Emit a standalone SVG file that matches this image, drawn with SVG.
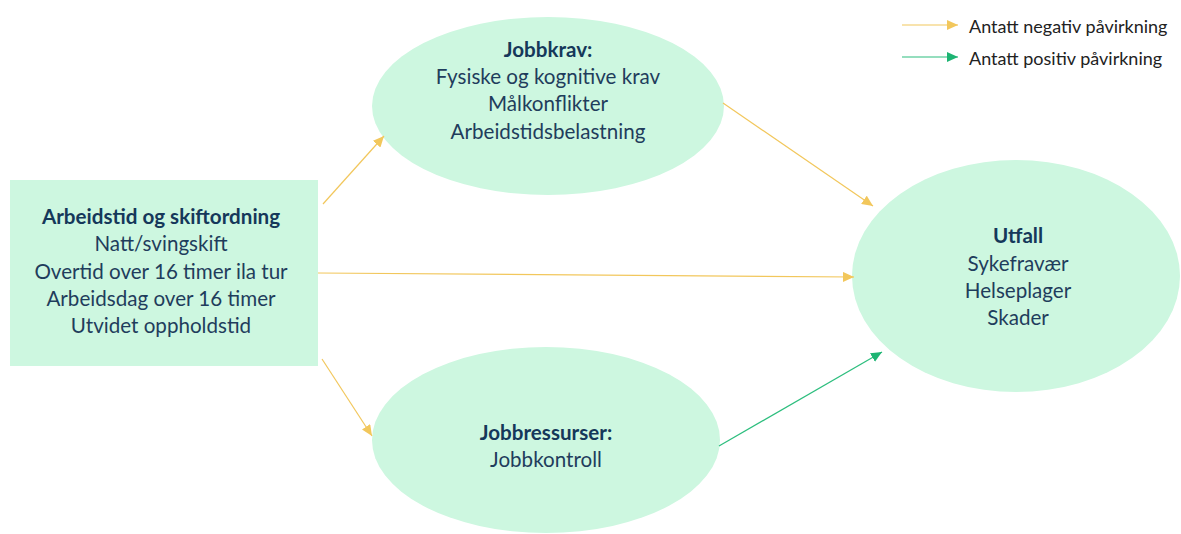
<svg xmlns="http://www.w3.org/2000/svg" width="1181" height="534" viewBox="0 0 1181 534">
  <style>
    .node { fill: #CDF7E0; }
    .t { font-family: Lato, "Open Sans", "Liberation Sans", sans-serif; font-size: 20.6px; fill: #1F3D5C; text-anchor: middle; }
    .h { font-weight: bold; fill: #15385A; }
    .leg { font-family: Lato, "Open Sans", "Liberation Sans", sans-serif; font-size: 18px; fill: #222; }
    .neg { stroke: #F2C75C; stroke-width: 1.2; fill: none; marker-end: url(#ahNeg); }
    .pos { stroke: #2DBE7E; stroke-width: 1.2; fill: none; marker-end: url(#ahPos); }
  </style>
  <defs>
    <marker id="ahNeg" markerUnits="userSpaceOnUse" markerWidth="12" markerHeight="10" refX="11" refY="5" orient="auto">
      <path d="M0,0 L11,5 L0,10 Z" fill="#F2C75C"/>
    </marker>
    <marker id="ahPos" markerUnits="userSpaceOnUse" markerWidth="12" markerHeight="10" refX="11" refY="5" orient="auto">
      <path d="M0,0 L11,5 L0,10 Z" fill="#1DB473"/>
    </marker>
  </defs>
  <rect width="1181" height="534" fill="#FFFFFF"/>

  <!-- legend -->
  <g id="legend">
    <line class="neg" x1="902" y1="25" x2="958" y2="25"/>
    <text class="leg" x="969" y="33">Antatt negativ påvirkning</text>
    <line class="pos" x1="902" y1="57" x2="958" y2="57"/>
    <text class="leg" x="969" y="65">Antatt positiv påvirkning</text>
  </g>

  <!-- work hours and shift schedule -->
  <g id="arbeidstid">
    <rect class="node" x="10" y="180" width="308" height="186"/>
    <text class="t h" x="161" y="224">Arbeidstid og skiftordning</text>
    <text class="t" x="161" y="251">Natt/svingskift</text>
    <text class="t" x="161" y="279">Overtid over 16 timer ila tur</text>
    <text class="t" x="161" y="306">Arbeidsdag over 16 timer</text>
    <text class="t" x="161" y="333">Utvidet oppholdstid</text>
  </g>

  <!-- job demands -->
  <g id="jobbkrav">
    <ellipse class="node" cx="548" cy="106" rx="176" ry="89"/>
    <text class="t h" x="548" y="57">Jobbkrav:</text>
    <text class="t" x="548" y="84">Fysiske og kognitive krav</text>
    <text class="t" x="548" y="111">Målkonflikter</text>
    <text class="t" x="548" y="139">Arbeidstidsbelastning</text>
  </g>

  <!-- job resources -->
  <g id="jobbressurser">
    <ellipse class="node" cx="546" cy="440" rx="174" ry="93"/>
    <text class="t h" x="546" y="440">Jobbressurser:</text>
    <text class="t" x="546" y="467">Jobbkontroll</text>
  </g>

  <!-- outcomes -->
  <g id="utfall">
    <ellipse class="node" cx="1016" cy="276" rx="164" ry="116"/>
    <text class="t h" x="1018" y="243">Utfall</text>
    <text class="t" x="1018" y="271">Sykefravær</text>
    <text class="t" x="1018" y="298">Helseplager</text>
    <text class="t" x="1018" y="325">Skader</text>
  </g>

  <!-- connectors -->
  <g id="connectors">
    <line class="neg" x1="323" y1="204" x2="384" y2="136"/>
    <line class="neg" x1="723" y1="103" x2="873" y2="206"/>
    <line class="neg" x1="318" y1="273" x2="854" y2="277"/>
    <line class="neg" x1="322" y1="359" x2="372" y2="436"/>
    <line class="pos" x1="719" y1="446" x2="882" y2="352"/>
  </g>
</svg>
